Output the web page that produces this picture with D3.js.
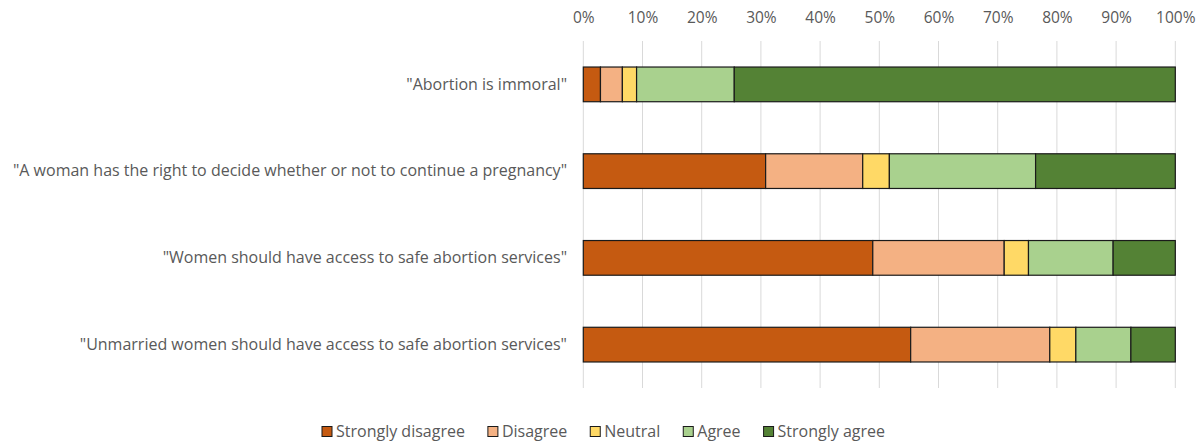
<!DOCTYPE html>
<html>
<head>
<meta charset="utf-8">
<script src="https://cdn.jsdelivr.net/npm/d3@7"></script>
<style>
  body { margin: 0; background: #fff; }
  text { font-family: "Open Sans", "Noto Sans", sans-serif; }
</style>
</head>
<body>
<script>
const statements = [
  '"Abortion is immoral"',
  '"A woman has the right to decide whether or not to continue a pregnancy"',
  '"Women should have access to safe abortion services"',
  '"Unmarried women should have access to safe abortion services"'
];
const responses = ["Strongly disagree", "Disagree", "Neutral", "Agree", "Strongly agree"];
const colors = ["#c55a11", "#f4b183", "#ffd966", "#a9d18e", "#548235"];

// percentages per statement, same order as responses
const stronglyDisagree = [2.9, 30.8, 48.9, 55.3];
const disagree = [3.7, 16.4, 22.2, 23.5];
const neutral = [2.4, 4.5, 4.1, 4.4];
const agree = [16.5, 24.7, 14.3, 9.3];
const stronglyAgree = [74.5, 23.6, 10.5, 7.5];

const xTicks = [0, 10, 20, 30, 40, 50, 60, 70, 80, 90, 100];

const width = 1201;
const height = 444;

const rows = statements.map((s, i) => ({
  statement: s,
  "Strongly disagree": stronglyDisagree[i],
  "Disagree": disagree[i],
  "Neutral": neutral[i],
  "Agree": agree[i],
  "Strongly agree": stronglyAgree[i]
}));

const stacked = d3.stack().keys(responses)(rows);

const svg = d3.select("body")
  .append("svg")
  .attr("width", width)
  .attr("height", height);

const x = d3.scaleLinear().domain([0, 100]).range([583.3, 1175.3]);
const y = d3.scaleBand().domain(statements).range([41, 388]).paddingInner(0.6).paddingOuter(0.3);

const color = d3.scaleOrdinal().domain(responses).range(colors);

// gridlines
svg.append("g")
  .selectAll("line")
  .data(xTicks)
  .enter()
  .append("line")
  .attr("x1", (d) => x(d))
  .attr("x2", (d) => x(d))
  .attr("y1", 41)
  .attr("y2", 388)
  .attr("stroke", "#d9d9d9")
  .attr("stroke-width", 1);

// top axis labels
const xAxis = d3.axisTop(x)
  .tickValues(xTicks)
  .tickSize(0)
  .tickPadding(0)
  .tickFormat((d) => d + "%");

svg.append("g")
  .attr("transform", "translate(0, 23)")
  .call(xAxis)
  .call((g) => g.select(".domain").remove())
  .selectAll("text")
  .attr("fill", "#595959")
  .style("font-size", "15.5px");

// category labels
const yAxis = d3.axisLeft(y).tickSize(0).tickPadding(0);

svg.append("g")
  .attr("transform", "translate(567, 0)")
  .call(yAxis)
  .call((g) => g.select(".domain").remove())
  .selectAll("text")
  .attr("fill", "#595959")
  .style("font-size", "16px");

// bars
svg.append("g")
  .selectAll("g")
  .data(stacked)
  .enter()
  .append("g")
  .attr("fill", (d) => color(d.key))
  .selectAll("rect")
  .data((d) => d)
  .enter()
  .append("rect")
  .attr("x", (d) => x(d[0]))
  .attr("y", (d) => y(d.data.statement))
  .attr("width", (d) => x(d[1]) - x(d[0]))
  .attr("height", y.bandwidth())
  .attr("stroke", "#1a1a1a")
  .attr("stroke-width", 1.2);

// legend: square, label, then gap to next item
const legend = svg.append("g").attr("transform", "translate(0, 431.5)");

const items = legend.selectAll("g")
  .data(responses)
  .enter()
  .append("g");

items.append("rect")
  .attr("x", 0)
  .attr("y", -5)
  .attr("width", 10)
  .attr("height", 10)
  .attr("fill", (d) => color(d))
  .attr("stroke", "#1a1a1a")
  .attr("stroke-width", 1);

items.append("text")
  .attr("x", 14)
  .attr("y", 0)
  .attr("dy", "0.35em")
  .attr("fill", "#595959")
  .style("font-size", "16px")
  .text((d) => d);

let offset = 322;
items.each(function () {
  const g = d3.select(this);
  g.attr("transform", `translate(${offset}, 0)`);
  offset += 14 + g.select("text").node().getComputedTextLength() + 23;
});
</script>
</body>
</html>
